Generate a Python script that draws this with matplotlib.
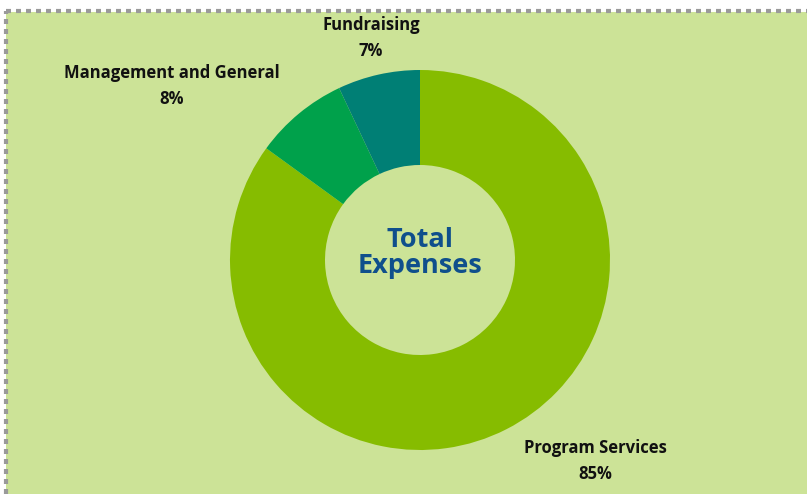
import matplotlib.pyplot as plt
from matplotlib.patches import Rectangle
from matplotlib.lines import Line2D

# data
categories = ['Program Services', 'Management and General', 'Fundraising']
shares = [85, 8, 7]
colors = ['#86bc00', '#00a14b', '#007f75']
center_title = 'Total\nExpenses'

W, H = 807, 494
fig = plt.figure(figsize=(W / 100, H / 100), dpi=100)
fig.patch.set_facecolor('white')

ax = fig.add_axes([0, 0, 1, 1])

# green panel with dotted border (top + left visible)
ax.add_patch(Rectangle((6, 0), W - 6, H - 12, facecolor='#cce397', edgecolor='none', zorder=0))
ax.add_line(Line2D([6, W], [H - 11, H - 11], color='#9a9a9a', lw=3, ls=(0, (1.2, 1.2)), zorder=1))
ax.add_line(Line2D([6, 6], [0, H - 11], color='#9a9a9a', lw=3, ls=(0, (1.2, 1.2)), zorder=1))

cx, cy, r = 420, H - 260, 190
ax.pie(shares, colors=colors, startangle=90, counterclock=False,
       center=(cx, cy), radius=r, frame=True,
       wedgeprops=dict(width=r * 0.5, edgecolor='none'))
ax.set_xlim(0, W)
ax.set_ylim(0, H)
ax.set_aspect('equal')
ax.axis('off')

ax.text(cx, cy + 7, center_title, ha='center', va='center', fontsize=19.5,
        fontweight='bold', color='#0f4f8c', family='Open Sans', linespacing=1.0)

lab_font = dict(ha='center', va='center', fontsize=12, fontweight='bold',
                color='#111111', family='Open Sans', linespacing=1.55)
label_pos = [(595, H - 461), (172, H - 86), (371, H - 38)]
for name, val, (x, y) in zip(categories, shares, label_pos):
    ax.text(x, y, f'{name}\n{val}%', **lab_font)

fig.savefig('out.png', dpi=100)
